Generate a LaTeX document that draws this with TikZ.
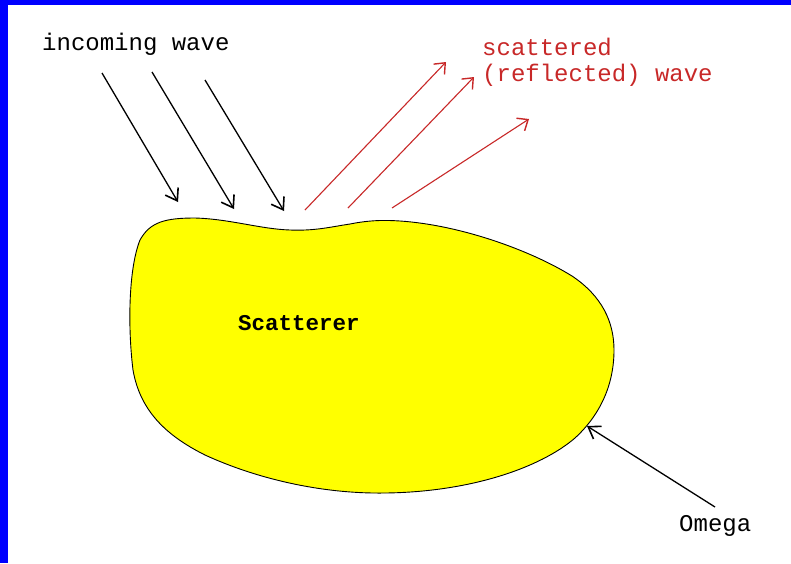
\documentclass[tikz,border=0pt]{standalone}
\usepackage{fontspec}
\setmonofont{Liberation Mono}
\usetikzlibrary{arrows.meta}
\definecolor{scred}{RGB}{200,40,40}
\definecolor{scyellow}{RGB}{255,255,0}
\definecolor{frameblue}{RGB}{0,0,255}
\tikzset{
  lbl/.style={font=\ttfamily\fontsize{24}{27}\selectfont, inner sep=0pt, anchor=west},
  inarrow/.style={draw=black, line width=1.3pt, -{Straight Barb[length=11pt,width=15pt,line width=1.6pt]}},
  outarrow/.style={draw=scred, line width=1.1pt, -{Straight Barb[length=9pt,width=15pt,line width=1.4pt]}},
}
\begin{document}
\begin{tikzpicture}[x=1pt,y=-1pt]
\useasboundingbox (0,0) rectangle (791,563);
\fill[white] (0,0) rectangle (791,563);
\fill[frameblue] (0,0) rectangle (791,5);
\fill[frameblue] (0,0) rectangle (7.5,563);

% scatterer body
\draw[fill=scyellow, line width=0.9pt]
  (140,240) .. controls (150,222) and (165,218) .. (195,218)
  .. controls (230,219) and (260,229) .. (290,230)
  .. controls (315,231) and (330,227) .. (350,224)
  .. controls (370,220) and (385,220) .. (400,221)
  .. controls (460,225) and (530,250) .. (572,276)
  .. controls (602,296) and (614,322) .. (614,350)
  .. controls (614,385) and (600,415) .. (575,438)
  .. controls (540,468) and (470,492) .. (385,493)
  .. controls (320,494) and (255,478) .. (205,455)
  .. controls (165,435) and (140,410) .. (133,370)
  .. controls (128,330) and (128,270) .. (140,240) -- cycle;

\node[font=\ttfamily\bfseries\fontsize{22.5}{25}\selectfont, inner sep=0pt] (scat) at (299,323) {Scatterer};

% labels
\node[lbl] (inc) at (42,44) {incoming wave};
\node[lbl, text=scred] (sc1) at (482,47) {scattered};
\node[lbl, text=scred] (sc2) at (482,75) {(reflected) wave};
\node[lbl] (om) at (679,526) {Omega};

% incoming arrows
\coordinate (i1s) at (102,73);  \coordinate (i1e) at (178,202);
\coordinate (i2s) at (152,72);  \coordinate (i2e) at (234,209);
\coordinate (i3s) at (205,80);  \coordinate (i3e) at (284,211);
\draw[inarrow] (i1s) -- (i1e);
\draw[inarrow] (i2s) -- (i2e);
\draw[inarrow] (i3s) -- (i3e);

% scattered arrows
\coordinate (o1s) at (305,210); \coordinate (o1e) at (446,62);
\coordinate (o2s) at (348,208); \coordinate (o2e) at (474,77);
\coordinate (o3s) at (392,208); \coordinate (o3e) at (529,119);
\draw[outarrow] (o1s) -- (o1e);
\draw[outarrow] (o2s) -- (o2e);
\draw[outarrow] (o3s) -- (o3e);

% omega arrow
\coordinate (ws) at (715,507); \coordinate (we) at (587,426);
\draw[inarrow] (ws) -- (we);
\end{tikzpicture}
\end{document}
